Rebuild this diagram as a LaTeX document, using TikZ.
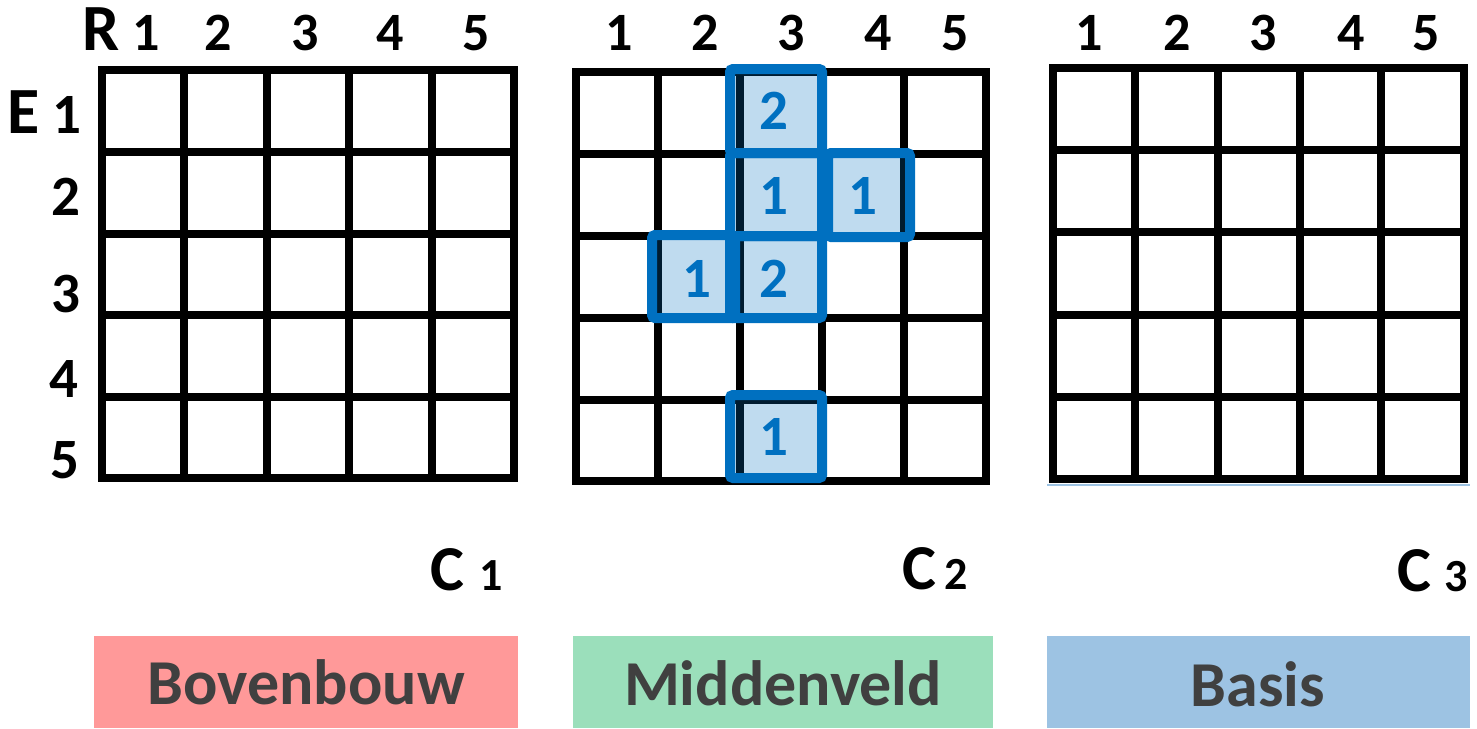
\documentclass[tikz,border=0pt]{standalone}
\usepackage{fontspec}
\setmainfont{Carlito}
\definecolor{gblue}{HTML}{0070C0}
\definecolor{txtgray}{HTML}{404040}
\definecolor{pinkbox}{HTML}{FF9999}
\definecolor{greenbox}{HTML}{9BDFBB}
\definecolor{bluebox}{HTML}{9DC3E3}
\begin{document}
\begin{tikzpicture}[x=1pt,y=-1pt,
  gridline/.style={line width=8pt, black, line cap=rect},
  collbl/.style={inner sep=0pt, anchor=base, font=\fontsize{54}{54}\selectfont\bfseries},
  rowlbl/.style={inner sep=0pt, anchor=center, font=\fontsize{57}{57}\selectfont\bfseries},
  biglbl/.style={inner sep=0pt, font=\fontsize{66}{66}\selectfont\bfseries},
  clbl/.style={inner sep=0pt, anchor=base west, font=\fontsize{64}{64}\selectfont\bfseries},
  cnum/.style={inner sep=0pt, anchor=base west, font=\fontsize{46}{46}\selectfont\bfseries},
  hibox/.style={draw=gblue, line width=10pt, fill=gblue, fill opacity=0.25, draw opacity=1, rounded corners=3pt},
  hinum/.style={inner sep=0pt, anchor=center, text=gblue, text opacity=1, font=\fontsize{57}{57}\selectfont\bfseries},
  leveltxt/.style={inner sep=0pt, anchor=base, text=txtgray, font=\fontsize{64}{64}\selectfont\bfseries}]
\useasboundingbox (0,0) rectangle (1477,728);
\fill[white] (0,0) rectangle (1477,728);

% ---------- grid 1 ----------
\foreach \x in {102,184,267,349,432,514} \draw[gridline] (\x,70) -- (\x,478);
\foreach \y in {70,152,234,315,397,478} \draw[gridline] (102,\y) -- (514,\y);
% ---------- grid 2 ----------
\foreach \x in {576,658,740,822,904,986} \draw[gridline] (\x,72) -- (\x,481);
\foreach \y in {72,154,236,318,400,481} \draw[gridline] (576,\y) -- (986,\y);
% ---------- grid 3 ----------
\foreach \x in {1053,1135,1218,1300,1381,1464} \draw[gridline] (\x,68) -- (\x,479);
\foreach \y in {68,150,232,315,397,479} \draw[gridline] (1053,\y) -- (1464,\y);
\draw[bluebox, line width=1.5pt] (1047,485) -- (1470,485);

% ---------- highlighted cells (grid 2) ----------
\draw[hibox] (730,69) rectangle (822,153);
\draw[hibox] (730,153) rectangle (822,236);
\draw[hibox] (828,153) rectangle (910,237);
\draw[hibox] (652,235) rectangle (735,318);
\draw[hibox] (730,236) rectangle (822,318);
\draw[hibox] (730,395) rectangle (822,478);
\node[hinum] (h1) at (774,111) {2};
\node[hinum] (h2) at (774,196) {1};
\node[hinum] (h3) at (863,196) {1};
\node[hinum] (h4) at (697,279) {1};
\node[hinum] (h5) at (774,279) {2};
\node[hinum] (h6) at (774,437) {1};

% ---------- column labels ----------
\node[biglbl, anchor=base] (R) at (101,50) {R};
\node[collbl] (a1) at (146,50) {1};
\node[collbl] (a2) at (218,50) {2};
\node[collbl] (a3) at (305,50) {3};
\node[collbl] (a4) at (390,50) {4};
\node[collbl] (a5) at (476,50) {5};
\node[collbl] (b1) at (619,50) {1};
\node[collbl] (b2) at (705,50) {2};
\node[collbl] (b3) at (791,50) {3};
\node[collbl] (b4) at (878,50) {4};
\node[collbl] (b5) at (955,50) {5};
\node[collbl] (c1) at (1089,50) {1};
\node[collbl] (c2) at (1177,50) {2};
\node[collbl] (c3) at (1263,50) {3};
\node[collbl] (c4) at (1351,50) {4};
\node[collbl] (c5) at (1426,50) {5};

% ---------- row labels ----------
\node[biglbl, anchor=center] (E) at (24,112) {E};
\node[rowlbl] (r1) at (67,115) {1};
\node[rowlbl] (r2) at (66,197) {2};
\node[rowlbl] (r3) at (66,294) {3};
\node[rowlbl] (r4) at (64,379) {4};
\node[rowlbl] (r5) at (65,460) {5};

% ---------- C labels ----------
\node[clbl] (C1) at (430,590) {C};
\node[cnum] (C1n) at (479,590) {1};
\node[clbl] (C2) at (902,589) {C};
\node[cnum] (C2n) at (944,589) {2};
\node[clbl] (C3) at (1397,591) {C};
\node[cnum] (C3n) at (1444,591) {3};

% ---------- level boxes ----------
\fill[pinkbox] (94,636) rectangle (518,728);
\fill[greenbox] (573,636) rectangle (993,728);
\fill[bluebox] (1047,636) rectangle (1470,728);
\node[leveltxt] (L1) at (306,704) {Bovenbouw};
\node[leveltxt] (L2) at (783,705) {Middenveld};
\node[leveltxt] (L3) at (1258,706) {Basis};
\end{tikzpicture}
\end{document}
